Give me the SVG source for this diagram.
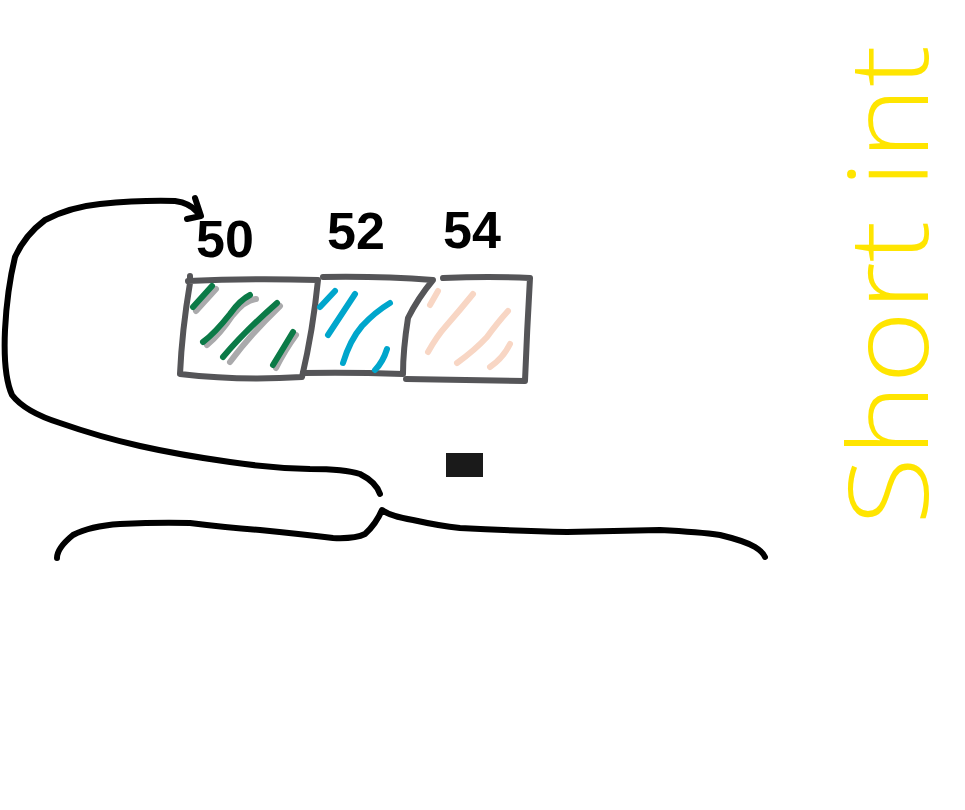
<svg xmlns="http://www.w3.org/2000/svg" width="965" height="810" viewBox="0 0 965 810">
  <style>
    .box { fill: none; stroke: #555558; stroke-width: 6; stroke-linecap: round; stroke-linejoin: round; }
    .ink { fill: none; stroke: #000; stroke-width: 6; stroke-linecap: round; stroke-linejoin: round; }
    .hatch { fill: none; stroke-width: 6; stroke-linecap: round; stroke-linejoin: round; }
    .green { stroke: #0b7a47; }
    .shadow { stroke: #aaaaac; }
    .blue { stroke: #00a6cc; }
    .peach { stroke: #f8d6c4; }
    .num { font-family: "Liberation Sans", Arial, sans-serif; font-weight: bold; font-size: 52px; fill: #000; }
    .title { font-family: "Open Sans", "Liberation Sans", sans-serif; font-weight: 300; font-size: 110px; fill: #ffe500; }
  </style>
  <rect width="965" height="810" fill="#fff"/>

  <g id="cell-50">
    <path class="box" d="M190 276 L190 281 M188 281 Q250 278 318 280 Q313 330 302 377 Q240 381 180 374 Q182 330 190 283"/>
    <path class="hatch shadow" d="M196 311 L216 289 M207 345 Q220 334 232 316 Q245 300 256 299 M230 362 Q250 335 280 306 M276 368 Q285 350 296 335"/>
    <path class="hatch green" d="M193 307 L212 286 M203 342 Q215 333 230 314 Q240 300 250 295 M223 357 Q245 331 277 303 M273 365 Q284 347 293 332"/>
    <text class="num" x="196" y="257">50</text>
  </g>

  <g id="cell-52">
    <path class="box" d="M323 277 Q380 276 433 280 Q418 298 408 318 Q403 350 403 374 Q350 372 303 373"/>
    <path class="hatch blue" d="M320 307 L335 291 M328 335 L355 294 M343 363 Q350 340 362 326 Q375 312 390 303 M375 370 Q383 362 387 349"/>
    <text class="num" x="327" y="249">52</text>
  </g>

  <g id="cell-54">
    <path class="box" d="M443 278 Q490 276 530 278 Q527 330 525 381 Q465 380 406 379"/>
    <path class="hatch peach" d="M430 305 L438 291 M428 352 Q437 336 446 326 Q460 310 473 294 M457 363 Q475 350 487 337 Q498 322 508 311 M490 367 Q503 358 510 344"/>
    <text class="num" x="443" y="248">54</text>
  </g>

  <g id="marker-block">
    <rect x="446" y="453" width="37" height="24" fill="#1a1a1a"/>
  </g>

  <g id="label-short-int">
    <text class="title" transform="translate(928 525) rotate(-90)" textLength="480" lengthAdjust="spacingAndGlyphs">Short int</text>
  </g>

  <g id="connectors">
    <path class="ink" d="M57 558 Q57 548 73 535 Q90 526 120 524 Q160 522 190 523 Q230 528 260 530 Q300 534 333 538 Q355 539 365 534 Q376 524 382 510 Q390 516 413 520 Q440 526 460 528 Q520 531 567 532 Q620 531 660 530 Q700 532 720 535 Q745 541 755 547 Q763 552 765 557"/>
    <path class="ink" d="M380 494 Q376 482 360 474 Q345 469 310 469 Q270 468 230 462 Q180 455 140 446 Q100 437 60 423 Q25 412 12 395 Q3 375 5 330 Q7 290 15 257 Q25 235 45 220 Q70 207 100 204 Q140 200 175 201 Q190 203 197 212"/>
    <path class="ink" d="M195 198 L201 216 M187 219 L201 216"/>
  </g>
</svg>
